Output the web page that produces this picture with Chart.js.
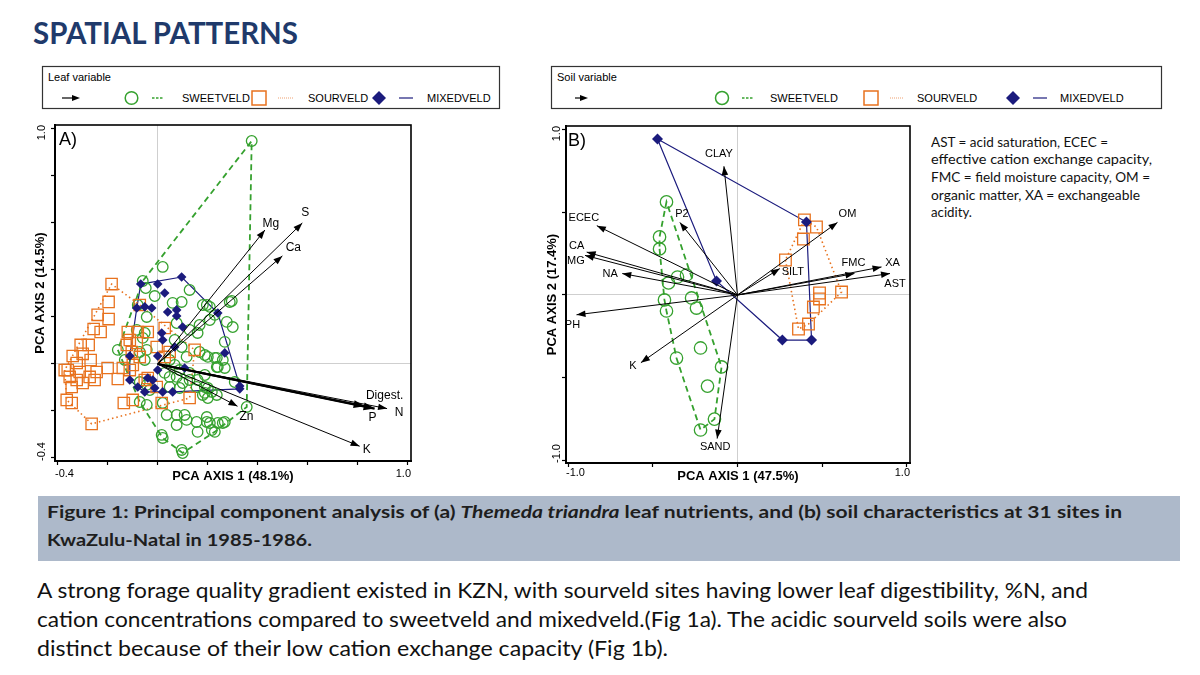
<!DOCTYPE html>
<html>
<head>
<meta charset="utf-8">
<script src="https://cdn.jsdelivr.net/npm/chart.js@4.4.1/dist/chart.umd.min.js"></script>
<style>
body { margin: 0; width: 1200px; height: 675px; background: #fff; position: relative; overflow: hidden; font-family: "Liberation Sans", Arial, sans-serif; font-variant-ligatures: none; }
.abs { position: absolute; }
.ln { position: absolute; white-space: nowrap; transform-origin: 0 50%; }
#title { left: 33px; top: 12px; font: bold 31px Lato; color: #1f3a6b; line-height: 40px; }
#capbox { left: 38px; top: 496px; width: 1142px; height: 65px; background: #adb9ca; }
.cap { font: bold 17.5px Lato; color: #1e1e1e; line-height: 24px; }
.para { font: 21.5px Lato; color: #111; line-height: 28px; }
.note { font: 13px Lato; color: #111; line-height: 18px; }
canvas { position: absolute; }
</style>
</head>
<body>
<div id="title" class="ln" data-w="265">SPATIAL PATTERNS</div>

<svg class="abs" style="left:0;top:0" width="1200" height="120" font-family="Liberation Sans, Arial, sans-serif" font-size="11">
  <rect x="42.5" y="66.5" width="457" height="42" fill="none" stroke="#333" stroke-width="1.2"/>
  <text x="48" y="81">Leaf variable</text>
  <line x1="62" y1="98" x2="74" y2="98" stroke="#000" stroke-width="1.2"/>
  <polygon points="80,98 72,95 72,101" fill="#000"/>
  <circle cx="131.5" cy="98" r="6.3" fill="none" stroke="#35a12e" stroke-width="1.5"/>
  <line x1="152" y1="98" x2="164" y2="98" stroke="#35a12e" stroke-width="1.3" stroke-dasharray="2.5,1.5"/>
  <text x="182" y="102">SWEETVELD</text>
  <rect x="252" y="91" width="14" height="14" fill="none" stroke="#e8721e" stroke-width="1.5"/>
  <line x1="278" y1="98" x2="293" y2="98" stroke="#eea070" stroke-width="1" stroke-dasharray="1,1"/>
  <text x="308" y="102">SOURVELD</text>
  <polygon points="379,91 386,98 379,105 372,98" fill="#1b1b7d"/>
  <line x1="399" y1="98" x2="413" y2="98" stroke="#1b1b7d" stroke-width="1.2"/>
  <text x="427" y="102">MIXEDVELD</text>

  <rect x="551.5" y="66.5" width="610" height="42" fill="none" stroke="#333" stroke-width="1.2"/>
  <text x="557" y="81">Soil variable</text>
  <line x1="575" y1="98" x2="582" y2="98" stroke="#000" stroke-width="1.2"/>
  <polygon points="588,98 580,95 580,101" fill="#000"/>
  <circle cx="722" cy="98" r="6.5" fill="none" stroke="#35a12e" stroke-width="1.5"/>
  <line x1="742" y1="98" x2="753" y2="98" stroke="#35a12e" stroke-width="1.3" stroke-dasharray="2.5,1.5"/>
  <text x="770" y="102">SWEETVELD</text>
  <rect x="864" y="91" width="14" height="14" fill="none" stroke="#e8721e" stroke-width="1.5"/>
  <line x1="890" y1="98" x2="904" y2="98" stroke="#eea070" stroke-width="1" stroke-dasharray="1,1"/>
  <text x="917" y="102">SOURVELD</text>
  <polygon points="1013,91 1020,98 1013,105 1006,98" fill="#1b1b7d"/>
  <line x1="1033" y1="98" x2="1047" y2="98" stroke="#1b1b7d" stroke-width="1.2"/>
  <text x="1060" y="102">MIXEDVELD</text>
</svg>

<canvas id="chartA" width="430" height="380" style="left:0;top:115px"></canvas>
<canvas id="chartB" width="410" height="380" style="left:520px;top:115px"></canvas>

<div class="ln note" style="left:931px;top:133px" data-w="177">AST = acid saturation, ECEC =</div>
<div class="ln note" style="left:931px;top:150px" data-w="221">effective cation exchange capacity,</div>
<div class="ln note" style="left:931px;top:168px" data-w="219">FMC = field moisture capacity, OM =</div>
<div class="ln note" style="left:931px;top:186px" data-w="209">organic matter, XA = exchangeable</div>
<div class="ln note" style="left:931px;top:203px" data-w="41">acidity.</div>

<div id="capbox" class="abs"></div>
<div class="ln cap" style="left:47px;top:500px" data-w="1075">Figure 1: Principal component analysis of (a) <i>Themeda triandra</i> leaf nutrients, and (b) soil characteristics at 31 sites in</div>
<div class="ln cap" style="left:47px;top:528px" data-w="265">KwaZulu-Natal in 1985-1986.</div>

<div class="ln para" style="left:37px;top:576px" data-w="1051">A strong forage quality gradient existed in KZN, with sourveld sites having lower leaf digestibility, %N, and</div>
<div class="ln para" style="left:37px;top:605px" data-w="1030">cation concentrations compared to sweetveld and mixedveld.(Fig 1a). The acidic sourveld soils were also</div>
<div class="ln para" style="left:37px;top:634px" data-w="631">distinct because of their low cation exchange capacity (Fig 1b).</div>

<script>
'use strict';

// ---- panel A: leaf variables ----
let leafNames = ['Mg', 'S', 'Ca', 'Digest.', 'P', 'N', 'Zn', 'K'];
let leafX = [0.43, 0.58, 0.50, 0.83, 0.87, 0.92, 0.32, 0.81];
let leafY = [0.57, 0.60, 0.46, -0.18, -0.19, -0.19, -0.18, -0.35];
let leafTicks = [-0.4, -0.2, 0, 0.2, 0.4, 0.6, 0.8, 1.0];

let sweetA = [[0.020,0.413],[-0.060,0.353],[-0.048,0.323],[-0.012,0.289],[0.128,0.315],[0.096,0.264],[0.181,0.251],
  [0.197,0.251],[0.289,0.264],[0.377,0.949],[0.297,0.268],[0.060,0.260],[0.209,0.243],[-0.044,0.200],[-0.080,0.251],
  [0.229,0.209],[0.168,0.166],[0.209,0.187],[0.076,0.174],[0.128,0.145],[0.160,0.132],[-0.084,0.145],[-0.060,0.111],
  [-0.052,0.132],[-0.160,0.060],[-0.132,0.017],[-0.072,0.051],[-0.052,0.017],[-0.044,0.060],[0.068,0.102],[0.096,0.072],
  [0.116,0.030],[0.168,0.051],[0.201,0.030],[0.237,0.026],[0.261,0.017],[0.237,-0.013],[0.269,-0.017],[0.048,0.017],
  [0.068,-0.004],[0.088,-0.026],[0.128,-0.038],[0.128,-0.068],[0.160,-0.068],[0.076,-0.055],[0.100,-0.081],[0.048,-0.055],
  [0.028,-0.038],[0.048,-0.098],[0.088,-0.102],[0.156,-0.098],[0.189,-0.123],[0.217,-0.119],[0.237,-0.132],[-0.072,-0.077],
  [-0.044,-0.089],[-0.032,-0.111],[-0.072,-0.162],[-0.044,-0.174],[0.020,-0.166],[0.036,-0.217],[0.076,-0.217],[0.108,-0.217],
  [0.076,-0.260],[0.116,-0.238],[0.156,-0.247],[0.197,-0.247],[0.241,-0.251],[0.269,-0.247],[0.016,-0.302],[0.020,-0.315],
  [0.096,-0.366],[0.100,-0.379],[0.160,-0.289],[0.217,-0.281],[0.277,0.179],[0.301,0.157],[0.269,0.094],[0.189,0.038],
  [0.229,0.026],[0.241,-0.013],[0.189,-0.047],[0.309,-0.077],[0.189,-0.098],[0.201,-0.102],[0.181,-0.132],[0.201,-0.145],
  [0.357,-0.183],[0.197,-0.226],[0.209,-0.251],[0.261,-0.251],[0.229,-0.289]];

let sourA = [[-0.185,0.340],[-0.197,0.264],[-0.072,0.251],[-0.241,0.209],[-0.197,0.191],[-0.257,0.149],[-0.229,0.136],
  [-0.120,0.136],[-0.080,0.136],[-0.040,0.136],[0.028,0.153],[-0.309,0.081],[-0.277,0.081],[-0.341,0.034],[-0.301,0.043],
  [-0.269,0.017],[-0.325,0.004],[-0.361,-0.026],[-0.313,-0.034],[-0.353,-0.055],[-0.273,-0.055],[-0.245,-0.034],
  [-0.325,-0.068],[-0.301,-0.081],[-0.345,-0.098],[-0.253,-0.068],[-0.365,-0.153],[-0.345,-0.166],[-0.265,-0.255],
  [-0.201,-0.017],[-0.160,-0.064],[-0.140,-0.017],[-0.112,-0.026],[-0.100,-0.004],[-0.124,0.081],[-0.104,0.051],
  [-0.072,0.030],[-0.084,0.089],[-0.112,0.102],[-0.136,-0.166],[-0.100,-0.153],[-0.052,-0.068],[-0.040,-0.060],
  [-0.004,-0.098],[0.016,-0.166],[0.028,0.030],[-0.004,0.072],[0.048,0.051],[0.148,0.060],[0.128,-0.145],[-0.373,-0.026]];

let mixedA = [[-0.068,0.340],[0.000,0.340],[0.096,0.370],[0.028,0.302],[-0.084,0.238],[-0.024,0.238],[-0.052,0.243],
  [0.040,0.221],[0.076,0.230],[0.076,0.204],[0.100,0.157],[0.016,0.132],[0.020,0.102],[0.068,0.072],[-0.112,0.034],
  [0.000,0.034],[0.108,-0.017],[0.000,-0.026],[-0.040,-0.060],[-0.020,-0.068],[-0.080,-0.098],[-0.052,-0.119],
  [-0.012,-0.102],[0.020,-0.119],[0.060,-0.119],[-0.112,-0.068],[0.269,0.047],[0.241,0.217],[0.329,-0.106],[0.329,-0.094]];

// ---- panel B: soil variables ----
let soilNames = ['CLAY', 'ECEC', 'CA', 'MG', 'NA', 'P2', 'PH', 'K', 'SAND', 'OM', 'SILT', 'FMC', 'XA', 'AST'];
let soilX = [-0.08, -0.83, -0.89, -0.90, -0.68, -0.34, -0.95, -0.57, -0.12, 0.59, 0.25, 0.69, 0.85, 0.90];
let soilY = [0.78, 0.42, 0.26, 0.24, 0.13, 0.44, -0.12, -0.41, -0.87, 0.44, 0.16, 0.13, 0.17, 0.13];
let soilTicks = [-1.0, -0.5, 0, 0.5, 1.0];

let sweetB = [[-0.419,0.564],[-0.460,0.352],[-0.460,0.279],[-0.301,0.121],[-0.354,0.109],[-0.407,0.073],[-0.271,-0.018],
  [-0.242,-0.079],[-0.431,-0.030],[-0.419,-0.097],[-0.218,-0.321],[-0.360,-0.382],[-0.094,-0.436],[-0.177,-0.552],
  [-0.136,-0.752],[-0.218,-0.818]];
let sourB = [[0.395,0.455],[0.466,0.412],[0.389,0.339],[0.283,0.212],[0.614,0.018],[0.484,0.012],[0.484,-0.024],
  [0.448,-0.073],[0.419,-0.176],[0.360,-0.206]];
let mixedB = [[-0.472,0.945],[-0.124,0.085],[0.407,0.442],[0.265,-0.273],[0.437,-0.273]];

// label offsets (px) from arrow tips
let leafLabelDx = [6, 3, 11, 20, -2, 12, 9, 7];
let leafLabelDy = [-6, -10, -8, -11, 9, 4, 10, 3];
let leafThick = [0, 0, 0, 1, 1, 0, 0, 0];
let soilLabelDx = [-5, -13, -10, -9, -12, 2, -4, -8, -2, 10, 13, -1, 11, 5];
let soilLabelDy = [-12, -8, -6, 6, 0, -8, 10, 3, 8, -8, 3, -11, -4, 10];

const GREEN = '#35a12e';
const ORANGE = '#e8721e';
const NAVY = '#1b1b7d';

function toPts(arr) {
    return arr.map(p => ({ x: p[0], y: p[1] }));
}

// convex hull of a group (monotone chain), closed
function hull(arr) {
    let p = arr.slice().sort((a, b) => a[0] - b[0] || a[1] - b[1]);
    let cross = (o, a, b) => (a[0] - o[0]) * (b[1] - o[1]) - (a[1] - o[1]) * (b[0] - o[0]);
    let lower = [], upper = [];
    for (let q of p) {
        while (lower.length >= 2 && cross(lower[lower.length - 2], lower[lower.length - 1], q) <= 0) lower.pop();
        lower.push(q);
    }
    for (let i = p.length - 1; i >= 0; i--) {
        let q = p[i];
        while (upper.length >= 2 && cross(upper[upper.length - 2], upper[upper.length - 1], q) <= 0) upper.pop();
        upper.push(q);
    }
    lower.pop(); upper.pop();
    let h = lower.concat(upper);
    h.push(h[0]);
    return toPts(h);
}

function hullSet(arr, color, dash, width) {
    return { data: hull(arr), showLine: true, pointRadius: 0, borderColor: color, borderDash: dash,
        borderWidth: width, fill: false, order: 3 };
}

function arrowSets(xs, ys, thick) {
    return xs.map((v, i) => ({ data: [{ x: 0, y: 0 }, { x: v, y: ys[i] }], showLine: true, pointRadius: 0,
        borderColor: '#000', borderWidth: thick[i] ? 2.2 : 1, order: 0 }));
}

function pointSet(arr, style, r, color, filled) {
    return { data: toPts(arr), pointStyle: style, pointRadius: r, borderColor: color,
        backgroundColor: filled ? color : 'rgba(255,255,255,0)', borderWidth: filled ? 0 : 1.3, order: 1 };
}

const biplot = {
    id: 'biplot',
    afterDatasetsDraw(chart, args, o) {
        let ctx = chart.ctx, a = chart.chartArea, xs = chart.scales.x, ys = chart.scales.y;
        let x0 = xs.getPixelForValue(0), y0 = ys.getPixelForValue(0);
        ctx.save();
        ctx.fillStyle = '#000';
        o.names.forEach((n, i) => {
            let px = xs.getPixelForValue(o.ax[i]), py = ys.getPixelForValue(o.ay[i]);
            let ang = Math.atan2(py - y0, px - x0);
            let L = o.thick[i] ? 11 : 9, W = o.thick[i] ? 4 : 3.3;
            let c = Math.cos(ang), s = Math.sin(ang);
            ctx.beginPath();
            ctx.moveTo(px, py);
            ctx.lineTo(px - L * c + W * s, py - L * s - W * c);
            ctx.lineTo(px - L * c - W * s, py - L * s + W * c);
            ctx.closePath();
            ctx.fill();
            ctx.font = o.labelFont;
            ctx.textAlign = 'center';
            ctx.textBaseline = 'middle';
            ctx.fillText(n, px + o.dx[i], py + o.dy[i]);
        });
        // frame
        ctx.strokeStyle = '#000';
        ctx.lineWidth = 1.6;
        ctx.strokeRect(a.left, a.top, a.right - a.left, a.bottom - a.top);
        // panel letter
        ctx.font = '18px "Liberation Sans"';
        ctx.textAlign = 'left';
        ctx.textBaseline = 'middle';
        ctx.fillText(o.panel, a.left + o.panelDx, a.top + 15);
        // tick labels at the axis ends
        let t = o.ticks, first = t[0].toFixed(1), last = t[t.length - 1].toFixed(1);
        ctx.font = '11px "Liberation Sans"';
        ctx.textAlign = 'left';
        ctx.fillText(first, a.left, a.bottom + o.xLblDy);
        ctx.textAlign = 'right';
        ctx.fillText(last, a.right, a.bottom + o.xLblDy);
        ctx.save();
        ctx.translate(a.left - o.yLblDx, a.top);
        ctx.rotate(-Math.PI / 2);
        ctx.textAlign = 'right';
        ctx.fillText(last, 0, 0);
        ctx.restore();
        ctx.save();
        ctx.translate(a.left - o.yLblDx, a.bottom);
        ctx.rotate(-Math.PI / 2);
        ctx.textAlign = 'left';
        ctx.fillText(first, 0, 0);
        ctx.restore();
        // axis titles
        ctx.font = 'bold 13px "Liberation Sans"';
        ctx.textAlign = 'center';
        ctx.fillText(o.xTitle, (a.left + a.right) / 2, a.bottom + o.xTitleDy);
        ctx.save();
        ctx.translate(a.left - o.yTitleDx, (a.top + a.bottom) / 2);
        ctx.rotate(-Math.PI / 2);
        ctx.fillText(o.yTitle, 0, 0);
        ctx.restore();
        ctx.restore();
    }
};

function axis(ticks, min, max, size, isX) {
    return {
        type: 'linear', min: min, max: max,
        afterBuildTicks: scale => { scale.ticks = ticks.map(v => ({ value: v })); },
        afterFit: scale => { if (isX) scale.height = size; else scale.width = size; },
        ticks: { display: false },
        grid: {
            color: c => (c.tick && c.tick.value === 0) ? '#cfcfcf' : 'rgba(0,0,0,0)',
            tickColor: '#000', tickLength: 4, tickWidth: 1.2, lineWidth: 1
        },
        border: { display: true, color: '#000', width: 2 }
    };
}

function makeChart(id, datasets, xr, yr, ticks, yw, xh, pad, opts) {
    return new Chart(document.getElementById(id).getContext('2d'), {
        type: 'scatter',
        data: { datasets: datasets },
        options: {
            responsive: false, animation: false, events: [],
            layout: { padding: pad, autoPadding: false },
            scales: { x: axis(ticks, xr[0], xr[1], xh, true), y: axis(ticks, yr[0], yr[1], yw, false) },
            plugins: { legend: { display: false }, tooltip: { enabled: false }, biplot: opts }
        },
        plugins: [biplot]
    });
}

let dsA = [].concat(
    arrowSets(leafX, leafY, leafThick),
    [pointSet(mixedA, 'rectRot', 4.8, NAVY, true),
     pointSet(sourA, 'rect', 8, ORANGE, false),
     pointSet(sweetA, 'circle', 5.3, GREEN, false),
     hullSet(sweetA, GREEN, [6, 4], 1.8),
     hullSet(sourA, ORANGE, [1.5, 3], 1.6),
     hullSet(mixedA, NAVY, [], 1.2)]
);

makeChart('chartA', dsA, [-0.412, 1.016], [-0.413, 1.017], leafTicks, 55, 34,
    { left: 0, top: 10, right: 19, bottom: 0 },
    { names: leafNames, ax: leafX, ay: leafY, thick: leafThick, dx: leafLabelDx, dy: leafLabelDy,
      labelFont: '12px "Liberation Sans"', panel: 'A)', panelDx: 4, ticks: leafTicks,
      xLblDy: 13, yLblDx: 13, xTitle: 'PCA AXIS 1 (48.1%)', yTitle: 'PCA AXIS 2 (14.5%)', xTitleDy: 15, yTitleDx: 15 });

let soilThick = soilNames.map(() => 0);
let dsB = [].concat(
    arrowSets(soilX, soilY, soilThick),
    [pointSet(mixedB, 'rectRot', 5.5, NAVY, true),
     pointSet(sourB, 'rect', 8.2, ORANGE, false),
     pointSet(sweetB, 'circle', 6.2, GREEN, false),
     hullSet(sweetB, GREEN, [6, 4], 1.8),
     hullSet(sourB, ORANGE, [1.5, 3], 1.6),
     hullSet(mixedB, NAVY, [], 1.2)]
);

makeChart('chartB', dsB, [-1.012, 1.018], [-1.018, 1.024], soilTicks, 46, 32,
    { left: 0, top: 11, right: 20, bottom: 0 },
    { names: soilNames, ax: soilX, ay: soilY, thick: soilThick, dx: soilLabelDx, dy: soilLabelDy,
      labelFont: '11px "Liberation Sans"', panel: 'B)', panelDx: 2, ticks: soilTicks,
      xLblDy: 10, yLblDx: 9, xTitle: 'PCA AXIS 1 (47.5%)', yTitle: 'PCA AXIS 2 (17.4%)', xTitleDy: 13, yTitleDx: 14 });

// squeeze text lines to the widths seen in the slide
document.querySelectorAll('.ln[data-w]').forEach(el => {
    let w = el.getBoundingClientRect().width;
    let target = parseFloat(el.dataset.w);
    if (w > 0) el.style.transform = 'scaleX(' + (target / w).toFixed(4) + ')';
});
</script>
</body>
</html>
